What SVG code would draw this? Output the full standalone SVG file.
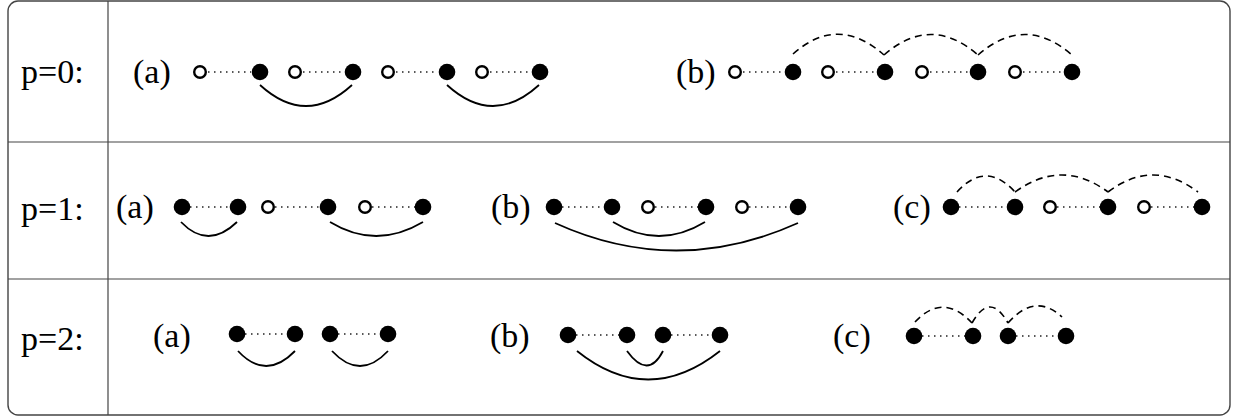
<svg xmlns="http://www.w3.org/2000/svg" width="1237" height="417" viewBox="0 0 1237 417">
<style>
.frame{fill:none;stroke:#444;stroke-width:1.4}
.grid{stroke:#444;stroke-width:1.2}
.f{fill:#000}
.o{fill:#fff;stroke:#000;stroke-width:2.4}
.dot{stroke:#222;stroke-width:1.5;stroke-dasharray:1.5 4.5;fill:none}
.arc{fill:none;stroke:#000;stroke-width:1.8}
.dash{fill:none;stroke:#000;stroke-width:1.6;stroke-dasharray:7 5}
</style>
<rect class="frame" x="8" y="1" width="1222" height="414" rx="10"/>
<line class="grid" x1="108" y1="1" x2="108" y2="415"/>
<line class="grid" x1="8" y1="142" x2="1230" y2="142"/>
<line class="grid" x1="8" y1="279" x2="1230" y2="279"/>

<g id="labels" font-family="'Liberation Serif', 'Times New Roman', 'DejaVu Serif', serif" font-size="34" fill="#000">
<text x="21" y="83">p=0:</text>
<text x="133" y="83">(a)</text>
<text x="676" y="83">(b)</text>
<text x="21" y="220">p=1:</text>
<text x="116" y="218">(a)</text>
<text x="491" y="218">(b)</text>
<text x="893" y="218">(c)</text>
<text x="21" y="350">p=2:</text>
<text x="153" y="347">(a)</text>
<text x="490" y="347">(b)</text>
<text x="833" y="347">(c)</text>
</g>

<g id="connectors">
<path class="dot" d="M208,72H251 M303,72H344 M396,72H438 M490,72H531"/>
<path class="dot" d="M743,72H784 M836,72H877 M930,72H970 M1023,72H1064"/>
<path class="dot" d="M190,207H230 M275,207H320 M372,207H415"/>
<path class="dot" d="M562,207H604 M655,207H698 M749,207H790"/>
<path class="dot" d="M959,207H1007 M1057,207H1100 M1151,207H1194"/>
<path class="dot" d="M245,334H287 M338,334H380"/>
<path class="dot" d="M576,335H619 M671,335H712"/>
<path class="dot" d="M922,336H965 M1016,336H1058"/>
<path class="arc" d="M260,85 Q306,127 352,85"/>
<path class="arc" d="M447,85 Q493,127 539,85"/>
<path class="arc" d="M181,222 Q208,250 237,222"/>
<path class="arc" d="M330,222 Q376,250 423,222"/>
<path class="arc" d="M613,222 Q659,250 705,222"/>
<path class="arc" d="M555,223 Q676,278 798,223"/>
<path class="arc" d="M238,351 Q266,381 295,351"/>
<path class="arc" d="M332,351 Q360,381 388,351"/>
<path class="arc" d="M627,351 Q648,380 663,351"/>
<path class="arc" d="M577,351 Q648,408 720,351"/>
<path class="dash" d="M793,54 Q838,14 884,55"/>
<path class="dash" d="M884,55 Q931,14 978,55"/>
<path class="dash" d="M978,55 Q1025,14 1072,55"/>
<path class="dash" d="M957,192 Q986,160 1015,192"/>
<path class="dash" d="M1015,192 Q1062,158 1108,192"/>
<path class="dash" d="M1108,192 Q1153,158 1198,192"/>
<path class="dash" d="M915,322 Q943,292 972,323"/>
<path class="dash" d="M972,323 Q990,291 1008,323"/>
<path class="dash" d="M1008,323 Q1035,292 1062,317"/>
</g>

<g id="p0a">
<g id="p0a-1"><circle class="o" cx="200" cy="72" r="5.8"/></g>
<g id="p0a-2"><circle class="f" cx="260" cy="72" r="8.3"/></g>
<g id="p0a-3"><circle class="o" cx="295" cy="72" r="5.8"/></g>
<g id="p0a-4"><circle class="f" cx="353" cy="72" r="8.3"/></g>
<g id="p0a-5"><circle class="o" cx="388" cy="72" r="5.8"/></g>
<g id="p0a-6"><circle class="f" cx="447" cy="72" r="8.3"/></g>
<g id="p0a-7"><circle class="o" cx="482" cy="72" r="5.8"/></g>
<g id="p0a-8"><circle class="f" cx="540" cy="72" r="8.3"/></g>
</g>
<g id="p0b">
<g id="p0b-1"><circle class="o" cx="735" cy="72" r="5.8"/></g>
<g id="p0b-2"><circle class="f" cx="793" cy="72" r="8.3"/></g>
<g id="p0b-3"><circle class="o" cx="828" cy="72" r="5.8"/></g>
<g id="p0b-4"><circle class="f" cx="885" cy="72" r="8.3"/></g>
<g id="p0b-5"><circle class="o" cx="922" cy="72" r="5.8"/></g>
<g id="p0b-6"><circle class="f" cx="978" cy="72" r="8.3"/></g>
<g id="p0b-7"><circle class="o" cx="1015" cy="72" r="5.8"/></g>
<g id="p0b-8"><circle class="f" cx="1072" cy="72" r="8.3"/></g>
</g>
<g id="p1a">
<g id="p1a-1"><circle class="f" cx="182" cy="207" r="8.3"/></g>
<g id="p1a-2"><circle class="f" cx="238" cy="207" r="8.3"/></g>
<g id="p1a-3"><circle class="o" cx="268" cy="207" r="5.8"/></g>
<g id="p1a-4"><circle class="f" cx="328" cy="207" r="8.3"/></g>
<g id="p1a-5"><circle class="o" cx="365" cy="207" r="5.8"/></g>
<g id="p1a-6"><circle class="f" cx="423" cy="207" r="8.3"/></g>
</g>
<g id="p1b">
<g id="p1b-1"><circle class="f" cx="554" cy="207" r="8.3"/></g>
<g id="p1b-2"><circle class="f" cx="612" cy="207" r="8.3"/></g>
<g id="p1b-3"><circle class="o" cx="648" cy="207" r="5.8"/></g>
<g id="p1b-4"><circle class="f" cx="706" cy="207" r="8.3"/></g>
<g id="p1b-5"><circle class="o" cx="742" cy="207" r="5.8"/></g>
<g id="p1b-6"><circle class="f" cx="798" cy="207" r="8.3"/></g>
</g>
<g id="p1c">
<g id="p1c-1"><circle class="f" cx="951" cy="207" r="8.3"/></g>
<g id="p1c-2"><circle class="f" cx="1015" cy="207" r="8.3"/></g>
<g id="p1c-3"><circle class="o" cx="1050" cy="207" r="5.8"/></g>
<g id="p1c-4"><circle class="f" cx="1108" cy="207" r="8.3"/></g>
<g id="p1c-5"><circle class="o" cx="1144" cy="207" r="5.8"/></g>
<g id="p1c-6"><circle class="f" cx="1202" cy="207" r="8.3"/></g>
</g>
<g id="p2a">
<g id="p2a-1"><circle class="f" cx="237" cy="334" r="8.3"/></g>
<g id="p2a-2"><circle class="f" cx="295" cy="334" r="8.3"/></g>
<g id="p2a-3"><circle class="f" cx="330" cy="334" r="8.3"/></g>
<g id="p2a-4"><circle class="f" cx="388" cy="334" r="8.3"/></g>
</g>
<g id="p2b">
<g id="p2b-1"><circle class="f" cx="568" cy="335" r="8.3"/></g>
<g id="p2b-2"><circle class="f" cx="627" cy="335" r="8.3"/></g>
<g id="p2b-3"><circle class="f" cx="663" cy="335" r="8.3"/></g>
<g id="p2b-4"><circle class="f" cx="720" cy="335" r="8.3"/></g>
</g>
<g id="p2c">
<g id="p2c-1"><circle class="f" cx="914" cy="336" r="8.3"/></g>
<g id="p2c-2"><circle class="f" cx="973" cy="336" r="8.3"/></g>
<g id="p2c-3"><circle class="f" cx="1008" cy="336" r="8.3"/></g>
<g id="p2c-4"><circle class="f" cx="1066" cy="336" r="8.3"/></g>
</g>
</svg>
